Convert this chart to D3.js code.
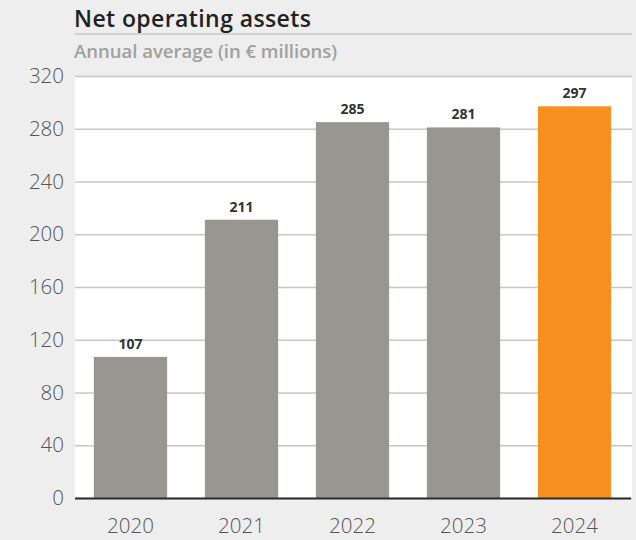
<!DOCTYPE html>
<html>
<head>
<meta charset="utf-8">
<script src="https://cdn.jsdelivr.net/npm/d3@7"></script>
<style>
  body { margin: 0; background: #eeeeee; }
  svg { display: block; font-family: "Open Sans", sans-serif; }
</style>
</head>
<body>
<div id="chart"></div>
<script>
// data
var years = ["2020", "2021", "2022", "2023", "2024"];
var values = [107, 211, 285, 281, 297];
var yTicks = [0, 40, 80, 120, 160, 200, 240, 280, 320];

var W = 636, H = 540;
var margin = {left: 75, right: 6, top: 76, bottom: 42};
var width = W - margin.left - margin.right,
    height = H - margin.top - margin.bottom;

var svg = d3.select("#chart").append("svg")
    .attr("width", W)
    .attr("height", H);

svg.append("rect").attr("width", W).attr("height", H).attr("fill", "#eeeeee");

// title + subtitle
svg.append("text")
    .attr("x", margin.left - 1).attr("y", 27)
    .attr("font-size", 23).attr("font-weight", 600).attr("fill", "#222")
    .attr("letter-spacing", 0.4)
    .text("Net operating assets");
svg.append("line")
    .attr("x1", margin.left).attr("x2", 632)
    .attr("y1", 34).attr("y2", 34)
    .attr("stroke", "#c9c9c4").attr("stroke-width", 1.5);
svg.append("text")
    .attr("x", margin.left - 1).attr("y", 57.5)
    .attr("font-size", 18.5).attr("font-weight", 600).attr("fill", "#a0a0a0")
    .text("Annual average (in \u20ac millions)");

var g = svg.append("g")
    .attr("transform", "translate(" + margin.left + "," + margin.top + ")");

// white plot area
g.append("rect")
    .attr("width", width + 2).attr("height", height)
    .attr("fill", "#ffffff");

var x = d3.scaleBand()
    .domain(years)
    .range([0, width])
    .paddingInner(0.34)
    .paddingOuter(0.17);

var y = d3.scaleLinear()
    .domain([0, 320])
    .range([height, 0]);

// y axis with gridlines
var yAxis = g.append("g")
    .call(d3.axisLeft(y).tickValues(yTicks).tickSize(-width - 2).tickPadding(11));
yAxis.select(".domain").remove();
yAxis.selectAll(".tick line").attr("stroke", "#c8c8c8").attr("stroke-width", 1.3);
yAxis.selectAll(".tick text")
    .attr("font-size", 20.5).attr("fill", "#555").attr("font-family", "Open Sans, sans-serif")
    .attr("font-weight", 300);

// bars
g.selectAll("rect.bar")
    .data(years)
    .enter().append("rect")
    .attr("class", "bar")
    .attr("x", function(d) { return x(d); })
    .attr("width", x.bandwidth())
    .attr("y", function(d, i) { return y(values[i]); })
    .attr("height", function(d, i) { return height - y(values[i]); })
    .attr("fill", function(d, i) { return i === years.length - 1 ? "#f7901e" : "#979691"; });

// value labels
g.selectAll("text.val")
    .data(years)
    .enter().append("text")
    .attr("class", "val")
    .attr("x", function(d) { return x(d) + x.bandwidth() / 2; })
    .attr("y", function(d, i) { return y(values[i]) - 8; })
    .attr("text-anchor", "middle")
    .attr("font-size", 14).attr("font-weight", 700).attr("fill", "#333")
    .text(function(d, i) { return values[i]; });

// x axis
var xAxis = g.append("g")
    .attr("transform", "translate(0," + height + ")")
    .call(d3.axisBottom(x).tickSize(0).tickPadding(20));
xAxis.select(".domain").remove();
xAxis.selectAll(".tick text")
    .attr("font-size", 20.5).attr("fill", "#555").attr("font-family", "Open Sans, sans-serif")
    .attr("font-weight", 300);

g.append("line")
    .attr("x1", 0).attr("x2", width + 1)
    .attr("y1", height + 0.5).attr("y2", height + 0.5)
    .attr("stroke", "#2b2b2b").attr("stroke-width", 2);
</script>
</body>
</html>
